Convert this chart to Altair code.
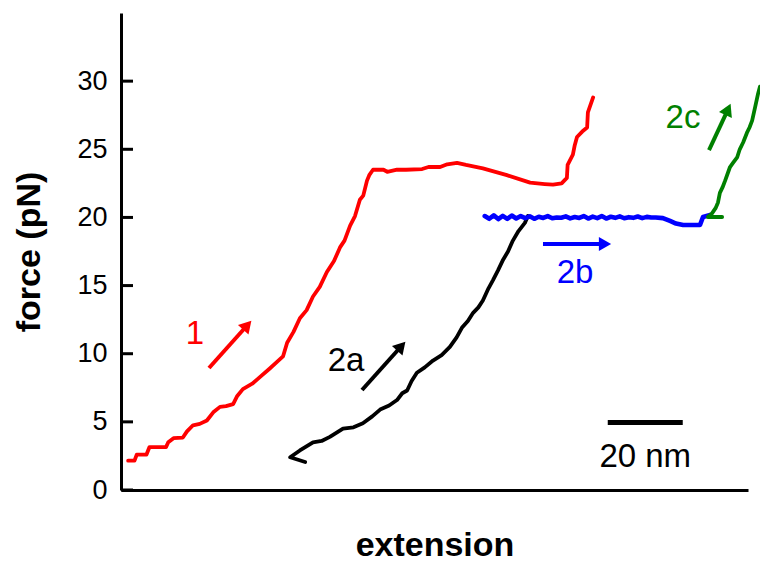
import altair as alt
import pandas as pd

# ---- data (extension in nm, force in pN) ----
red_ext = [1.9, 3.6, 4.2, 6.8, 7.6, 12.0, 12.6, 14.0, 16.5, 17.6, 19.2, 21.0, 22.9, 24.6, 26.4, 28.0,
           29.9, 31.0, 32.5, 35.0, 37.1, 39.6, 41.6, 43.2, 44.3, 46.0, 47.7, 49.5, 51.2, 53.0, 54.9,
           56.8, 58.4, 59.6, 61.1, 62.4, 63.7, 64.6, 65.6, 66.2, 67.2, 70.0, 71.0, 73.6, 76.0, 80.3,
           82.0, 85.1, 87.0, 89.6, 92.0, 96.5, 102.9, 109.1, 113.0, 115.2, 117.5, 118.9, 119.1, 120.5,
           121.0, 121.6, 123.0, 124.3, 124.5, 125.9]
red_force = [2.15, 2.15, 2.6, 2.6, 3.15, 3.15, 3.5, 3.8, 3.85, 4.3, 4.75, 4.85, 5.1, 5.7, 6.1, 6.15,
             6.3, 6.9, 7.4, 7.8, 8.3, 8.9, 9.4, 9.8, 10.8, 11.6, 12.6, 13.2, 14.2, 14.9, 16.0,
             16.8, 17.8, 18.3, 19.4, 20.1, 21.3, 21.6, 22.7, 23.1, 23.5, 23.5, 23.35, 23.5, 23.5, 23.55,
             23.7, 23.7, 23.9, 24.0, 23.85, 23.6, 23.1, 22.55, 22.45, 22.4, 22.5, 22.9, 23.85, 24.6,
             25.3, 25.9, 26.3, 26.6, 27.7, 28.8]

black_ext = [49.1, 45.1, 47.7, 51.2, 53.5, 55.7, 59.2, 62.0, 64.5, 67.0, 69.1, 71.5, 73.6, 75.0, 76.3,
             77.5, 78.9, 81.0, 83.2, 85.5, 87.7, 89.5, 90.9, 92.5, 93.9, 95.3, 96.5, 98.0, 99.2, 100.5,
             101.9, 103.2, 104.5, 106.0, 107.7, 108.5]
black_force = [2.05, 2.4, 2.9, 3.5, 3.6, 3.9, 4.5, 4.6, 4.9, 5.4, 5.9, 6.2, 6.6, 7.1, 7.3,
               8.0, 8.6, 9.0, 9.5, 9.9, 10.5, 11.2, 11.9, 12.4, 13.0, 13.4, 13.9, 14.8, 15.4, 16.1,
               16.9, 17.5, 18.3, 19.0, 19.6, 20.1]

blue_ext = [97.0, 98.2, 99.4, 100.6, 101.8, 103.0, 104.2, 105.4, 106.6, 107.8, 109.0, 110.2, 111.4,
            112.6, 113.8, 115.0, 116.2, 117.4, 118.6, 119.8, 121.0, 122.2, 123.4, 124.6, 125.8, 127.0,
            128.2, 129.4, 130.6, 131.8, 133.0, 134.2, 135.4, 136.6, 137.8, 139.0, 140.2, 141.4, 142.6,
            144.5, 146.4, 148.0, 149.9, 154.4, 155.2, 157.1]
blue_force = [20.1, 19.9, 20.15, 19.88, 20.12, 19.9, 20.14, 19.92, 20.1, 19.95, 20.08, 19.9, 20.05,
              19.96, 20.1, 19.94, 20.0, 19.98, 20.08, 19.93, 20.03, 19.96, 20.1, 19.92, 20.06, 19.95,
              20.1, 19.92, 20.05, 19.97, 20.08, 19.94, 20.02, 19.97, 20.07, 19.95, 20.04, 19.99, 20.0,
              19.95, 19.74, 19.55, 19.44, 19.44, 20.03, 20.18]

green_ext = [160.3, 156.5, 157.6, 158.6, 159.2, 159.7, 160.4, 161.1, 162.4, 163.2, 164.3, 165.0,
             165.9, 166.9, 167.6, 168.3, 169.1, 169.9, 170.4]
green_force = [20.03, 20.03, 20.3, 20.7, 21.1, 21.8, 22.2, 22.7, 23.7, 24.0, 24.4, 25.0,
               25.5, 26.2, 26.6, 27.1, 28.1, 29.1, 29.6]

y_ticks = [0, 5, 10, 15, 20, 25, 30]

# annotations: labels, arrows (tail -> head), scale bar
label_text = ["1", "2a", "2b", "2c"]
label_ext = [19.73, 60.0, 121.07, 149.87]
label_force = [11.41, 9.46, 15.9, 27.26]
label_color = ["#ff0000", "#000000", "#0000ff", "#008000"]

arrow_tail_ext = [23.47, 64.27, 112.53, 156.8]
arrow_tail_force = [8.95, 7.34, 18.05, 24.94]
arrow_head_ext = [33.68, 74.75, 129.07, 161.87]
arrow_head_force = [12.09, 10.55, 18.05, 27.93]
arrow_angle = [41.8, 41.9, 90.0, 25.0]

scalebar_ext = [129.8, 149.8]
scalebar_force = 4.95
scalebar_text = "20 nm"
scalebar_text_force = 2.45

FONT = "Liberation Sans"

x_scale = alt.Scale(domain=[0, 167.2], nice=False, zero=False)
y_scale = alt.Scale(domain=[0, 35], nice=False, zero=True)


def X(field="ext"):
    return alt.X(f"{field}:Q", scale=x_scale, title="extension",
                 axis=alt.Axis(labels=False, ticks=False, grid=False, titlePadding=38))


def Y(field="force"):
    return alt.Y(f"{field}:Q", scale=y_scale, title="force (pN)",
                 axis=alt.Axis(values=y_ticks, ticks=False, grid=False, labelPadding=14,
                               titlePadding=30))


def curve(xs, ys, color, width):
    df = pd.DataFrame({"ext": xs, "force": ys, "order": list(range(len(xs)))})
    return alt.Chart(df).mark_line(color=color, strokeWidth=width, strokeJoin="round",
                                   strokeCap="round").encode(
        x=X(), y=Y(), order="order:Q")


red = curve(red_ext, red_force, "#ff0000", 3.8)
black = curve(black_ext, black_force, "#000000", 3.8)
blue = curve(blue_ext, blue_force, "#0000ff", 4.6)
green = curve(green_ext, green_force, "#008000", 3.8)

tick_df = pd.DataFrame({"force": y_ticks})
ticks = alt.Chart(tick_df).mark_rule(color="black", strokeWidth=3).encode(
    y=Y(), x=alt.value(0), x2=alt.value(12))

lab_df = pd.DataFrame({"ext": label_ext, "force": label_force, "t": label_text, "c": label_color})
labels = alt.Chart(lab_df).mark_text(font=FONT, fontSize=33, align="center",
                                     baseline="middle").encode(
    x=X(), y=Y(), text="t:N", color=alt.Color("c:N", scale=None))

arr_df = pd.DataFrame({"ext": arrow_tail_ext, "force": arrow_tail_force,
                       "ext2": arrow_head_ext, "force2": arrow_head_force,
                       "ang": arrow_angle, "c": label_color})
shafts = alt.Chart(arr_df).mark_rule(strokeWidth=4).encode(
    x=X(), y=Y(), x2="ext2:Q", y2="force2:Q", color=alt.Color("c:N", scale=None))
heads = alt.Chart(arr_df).mark_point(shape="triangle-up", filled=True, size=200, opacity=1).encode(
    x=X("ext2"), y=Y("force2"), angle=alt.Angle("ang:Q", scale=None),
    color=alt.Color("c:N", scale=None))

sb_df = pd.DataFrame({"ext": [scalebar_ext[0]], "ext2": [scalebar_ext[1]], "force": [scalebar_force],
                      "mid": [(scalebar_ext[0] + scalebar_ext[1]) / 2],
                      "tf": [scalebar_text_force], "t": [scalebar_text]})
sbar = alt.Chart(sb_df).mark_rule(color="black", strokeWidth=5).encode(
    x=X(), x2="ext2:Q", y=Y())
stext = alt.Chart(sb_df).mark_text(font=FONT, fontSize=33, align="center", baseline="middle",
                                   color="black").encode(x=X("mid"), y=Y("tf"), text="t:N")

chart = alt.layer(ticks, red, black, blue, green, shafts, heads, labels, sbar, stext).properties(
    width=627, height=477,
    background="white",
    autosize=alt.AutoSizeParams(type="none"),
    padding={"left": 121, "top": 13, "right": 12, "bottom": 73},
).configure_view(stroke=None).configure_axis(
    domainColor="black", domainWidth=3, labelFont=FONT, labelFontSize=27, labelColor="black",
    titleFont=FONT, titleFontSize=34, titleFontWeight="bold", titleColor="black",
)

chart.save("out.html", embed_options={"renderer": "svg", "actions": False})
